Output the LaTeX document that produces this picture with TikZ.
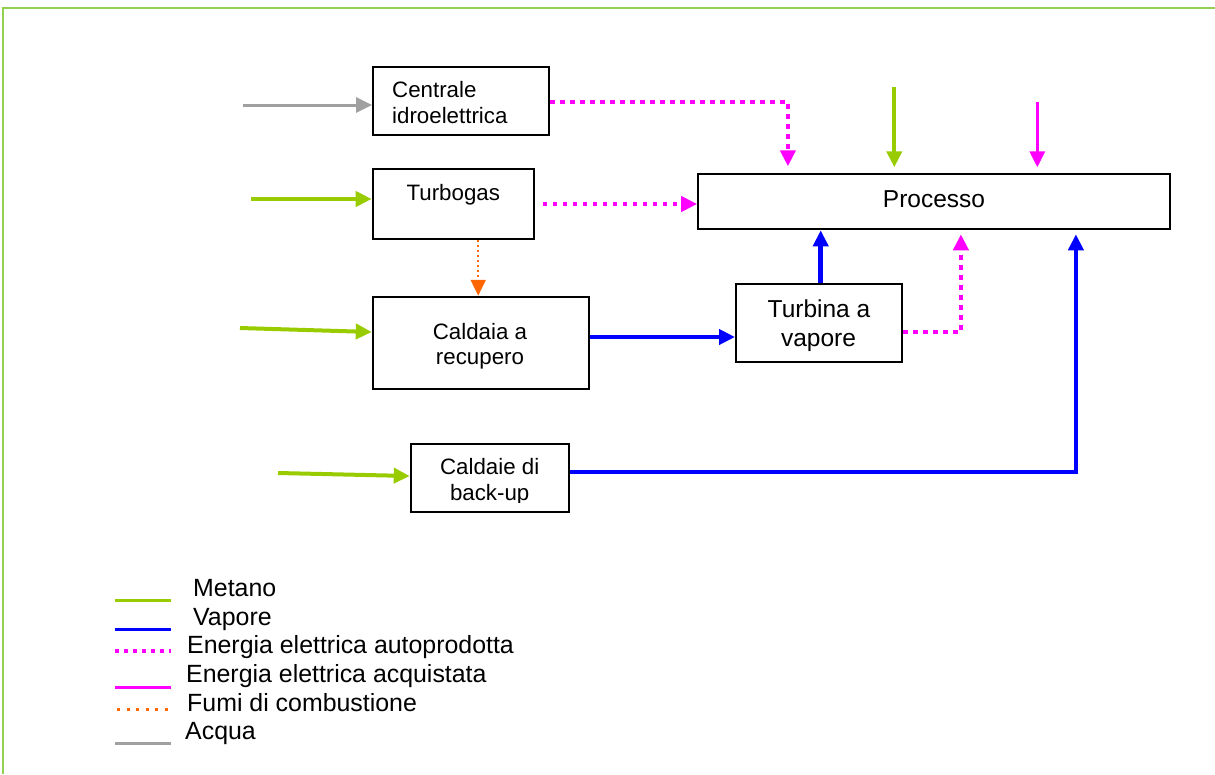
\documentclass[tikz,border=0pt]{standalone}
\usepackage{fontspec}
\setmainfont{Liberation Sans}
\usetikzlibrary{arrows.meta,calc}
\definecolor{metano}{HTML}{99CC00}
\definecolor{vapore}{HTML}{0000FF}
\definecolor{elettr}{HTML}{FF00FF}
\definecolor{fumi}{HTML}{FF6600}
\definecolor{acqua}{HTML}{A0A0A0}
\definecolor{cornice}{HTML}{92D050}
\tikzset{
  box/.style={draw=black, line width=2pt, minimum width=#1, inner sep=0pt},
  txtS/.style={font=\fontsize{22.3}{25}\selectfont, inner sep=0pt},
  txtL/.style={font=\fontsize{24.5}{28}\selectfont, inner sep=0pt},
  txtG/.style={font=\fontsize{24.9}{28}\selectfont, inner sep=0pt},
  tip/.style={-{Triangle[length=16pt 0 0,width=15pt 0 0]}},
  flussometano/.style={metano, line width=4pt, tip},
  flussovapore/.style={vapore, line width=4.5pt, tip},
  flussoauto/.style={elettr, line width=4.5pt, dash pattern=on 4.5pt off 5.5pt, tip},
  flussoacq/.style={elettr, line width=3pt, tip},
  flussofumi/.style={fumi, line width=2pt, dash pattern=on 2pt off 3pt, tip},
  flussoacqua/.style={acqua, line width=3pt, tip},
}
\begin{document}
\begin{tikzpicture}[x=1pt,y=-1pt]
\useasboundingbox (0,0) rectangle (1215,774);
% frame
\draw[cornice, line width=2pt] (2.5,774) -- (2.5,7.5) -- (1215,7.5);

% boxes
\node[box=176pt, minimum height=68pt] (ce) at (461,101) {};
\node[box=161pt, minimum height=70pt] (tg) at (453.2,204) {};
\node[box=216.5pt, minimum height=92.5pt] (cr) at (481,343) {};
\node[box=158.5pt, minimum height=67.5pt] (cb) at (490,478) {};
\node[box=472pt, minimum height=55pt] (pr) at (934.2,201.8) {};
\node[box=166pt, minimum height=78pt] (tv) at (819,323) {};

% box texts
\node[txtS, anchor=base west] (ceT1) at (392,97.7) {Centrale};
\node[txtS, anchor=base west] (ceT2) at (392,123.3) {idroelettrica};
\node[txtS, anchor=base] (tgT) at (453.3,200) {Turbogas};
\node[txtS, anchor=base] (crT1) at (480,339.3) {Caldaia a};
\node[txtS, anchor=base] (crT2) at (480,364) {recupero};
\node[txtS, anchor=base] (cbT1) at (489.7,474.3) {Caldaie di};
\begin{scope}
\clip (400,480) rectangle (580,502);
\node[txtS, anchor=base] (cbT2) at (489.7,500) {back-up};
\end{scope}
\node[txtL, anchor=base] (prT) at (934,207.7) {Processo};
\node[txtL, anchor=base] (tvT1) at (819,317.3) {Turbina a};
\node[txtL, anchor=base] (tvT2) at (818.5,346) {vapore};

% inputs
\coordinate (acquaIn) at (243,105);
\draw[flussoacqua] (acquaIn) -- (acquaIn -| ce.west);
\coordinate (metIn1) at (251,199);
\draw[flussometano] (metIn1) -- (metIn1 -| tg.west);
\coordinate (metIn2) at (240,328);
\draw[flussometano] (metIn2) -- ($(cr.west)+(0,-11)$);
\coordinate (metIn3) at (278,473);
\draw[flussometano] (metIn3) -- ($(cb.west)+(0,-2)$);
\coordinate (metIn4) at (894.3,87);
\draw[flussometano] (metIn4) -- ($(metIn4 |- pr.north)+(0,-6)$);
\coordinate (eleIn) at (1037.3,102);
\draw[flussoacq] (eleIn) -- ($(eleIn |- pr.north)+(0,-6)$);

% internal flows
\draw[flussofumi] ($(tg.south)+(25,0)$) coordinate (f1) -- (f1 |- cr.north);
\draw[flussoauto] ($(ce.east)+(0,1)$) -| ($(pr.north west)+(90.7,-7)$);
\draw[flussoauto] ($(tg.east)+(8,0)$) coordinate (a2) -- (a2 -| pr.west);
\draw[flussovapore] ($(tv.north)+(1.7,0)$) coordinate (v1) -- (v1 |- pr.south);
\draw[flussoauto] ($(tv.east)+(0,9)$) -| ($(pr.south west)+(263.7,4)$);
\draw[flussovapore] ($(cb.east)+(0,-6)$) -| ($(pr.south west)+(378.7,4)$);
\draw[flussovapore] ($(cr.east)+(0,-6)$) coordinate (v3) -- (v3 -| tv.west);

% legend
\draw[metano, line width=3pt] (115,600) -- (171,600);
\draw[vapore, line width=3pt] (115,629) -- (171,629);
\draw[elettr, line width=3.5pt, dash pattern=on 3.5pt off 5.5pt] (115,651) -- (171,651);
\draw[elettr, line width=3pt] (115,687) -- (171,687);
\draw[fumi, line width=3pt, dash pattern=on 3pt off 6.5pt] (117,709) -- (171,709);
\draw[acqua, line width=3pt] (115,743) -- (171,743);
\node[txtG, anchor=base west] (lg1) at (193,596) {Metano};
\node[txtG, anchor=base west] (lg2) at (193,625) {Vapore};
\node[txtG, anchor=base west] (lg3) at (187,653) {Energia elettrica autoprodotta};
\node[txtG, anchor=base west] (lg4) at (186,682) {Energia elettrica acquistata};
\node[txtG, anchor=base west] (lg5) at (187,711) {Fumi di combustione};
\node[txtG, anchor=base west] (lg6) at (185,739) {Acqua};
\end{tikzpicture}
\end{document}
